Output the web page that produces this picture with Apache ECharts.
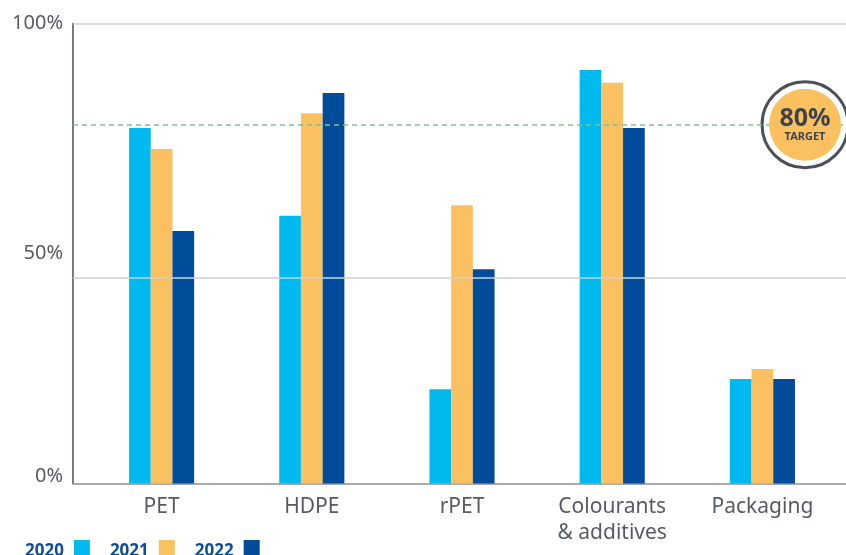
<!DOCTYPE html>
<html lang="en">
<head>
    <meta charset="UTF-8">
    <title>Recycled content</title>
    <script src="https://cdn.jsdelivr.net/npm/echarts@6/dist/echarts.min.js"></script>
    <style>
        html, body { margin: 0; padding: 0; background: #fff; }
        #main { width: 846px; height: 555px; }
    </style>
</head>
<body>
<div id="main"></div>
<script type="text/javascript">
    var categories = ['PET', 'HDPE', 'rPET', 'Colourants\n& additives', 'Packaging'];
    var years = ['2020', '2021', '2022'];
    var v2020 = [77.3, 58.2, 20.5, 89.9, 22.7];
    var v2021 = [72.7, 80.5, 60.5, 87.1, 24.9];
    var v2022 = [54.9, 84.9, 46.6, 77.3, 22.7];
    var yTicks = [0, 50, 100];
    var midLine = 44.8;      // grey rule, drawn a bit under the 50% label in the original
    var targetLine = 78;     // dashed "target" rule
    var targetText = ['80%', 'TARGET'];

    var colors = ['#00B9EE', '#FBC060', '#004B9A'];
    var fontFam = '"Noto Sans", "Open Sans", sans-serif';

    var myChart = echarts.init(document.getElementById('main'));

    var barSeries = [v2020, v2021, v2022].map(function (vals, i) {
        return {
            name: years[i],
            type: 'bar',
            xAxisIndex: 1,
            yAxisIndex: 1,
            barWidth: 21.7,
            barGap: '0%',
            z: 3,
            itemStyle: {color: colors[i]},
            data: vals
        };
    });

    var option = {
        animation: false,
        textStyle: {fontFamily: fontFam},
        legend: {
            data: years,
            left: 20,
            top: 535,
            align: 'right',
            icon: 'rect',
            itemWidth: 16,
            itemHeight: 22,
            itemGap: 20,
            textStyle: {
                color: '#0E4E96',
                fontWeight: 'bold',
                fontSize: 17,
                fontFamily: fontFam,
                padding: [0, 5, 0, 0]
            }
        },
        grid: [
            // frame grid: axis lines, y labels, rules
            {left: 73, right: 0, top: 23.5, bottom: 71.5},
            // bar grid
            {left: 86.5, right: 8.5, top: 23.5, bottom: 71.5}
        ],
        xAxis: [
            {
                type: 'value', gridIndex: 0, min: 0, max: 100,
                axisLine: {show: true, lineStyle: {color: '#8C8F94', width: 1.5}},
                axisTick: {show: false},
                axisLabel: {show: false},
                splitLine: {show: false}
            },
            {
                type: 'category', gridIndex: 1, data: categories,
                axisLine: {show: false},
                axisTick: {show: false},
                axisLabel: {
                    color: '#555B63',
                    fontSize: 21,
                    lineHeight: 26,
                    margin: 11,
                    fontFamily: fontFam
                },
                splitLine: {show: false}
            }
        ],
        yAxis: [
            {
                type: 'value', gridIndex: 0, min: yTicks[0], max: yTicks[yTicks.length - 1], interval: 50,
                axisLine: {show: true, lineStyle: {color: '#4B4F57', width: 1.5}},
                axisTick: {show: false},
                axisLabel: {
                    color: '#555B63',
                    fontSize: 20,
                    margin: 10,
                    fontFamily: fontFam,
                    formatter: function (v) {
                        return v === 0 ? '{z|0%}' : v + '%';
                    },
                    rich: {
                        z: {color: '#555B63', fontSize: 20, fontFamily: fontFam, padding: [0, 0, 14, 0]}
                    }
                },
                splitLine: {show: false}
            },
            {
                type: 'value', gridIndex: 1, min: 0, max: 100, show: false
            }
        ],
        series: barSeries.concat([
            {
                // rules behind the bars
                type: 'line',
                xAxisIndex: 0,
                yAxisIndex: 0,
                data: [],
                z: 1,
                silent: true,
                markLine: {
                    symbol: 'none',
                    silent: true,
                    label: {show: false},
                    data: [
                        {yAxis: 100, lineStyle: {color: '#CFCFCF', width: 1.5, type: 'solid'}},
                        {yAxis: midLine, lineStyle: {color: '#CFCFCF', width: 1.5, type: 'solid'}},
                        {yAxis: targetLine, lineStyle: {color: '#7CC290', width: 1.5, type: [5, 4]}}
                    ]
                }
            },
            {
                // target badge ring
                type: 'scatter',
                xAxisIndex: 0,
                yAxisIndex: 0,
                symbol: 'circle',
                symbolSize: 86,
                z: 4,
                silent: true,
                itemStyle: {color: '#FFFFFF', borderColor: '#4B4F57', borderWidth: 3, opacity: 1},
                data: [[94.7, targetLine]]
            },
            {
                type: 'scatter',
                xAxisIndex: 0,
                yAxisIndex: 0,
                symbol: 'circle',
                symbolSize: 72,
                z: 5,
                silent: true,
                itemStyle: {color: '#FBC060', opacity: 1},
                label: {
                    show: true,
                    position: 'inside',
                    formatter: '{a|' + targetText[0] + '}\n{b|' + targetText[1] + '}',
                    rich: {
                        a: {color: '#3F444C', fontSize: 25, fontWeight: 'bold', fontFamily: fontFam, lineHeight: 24},
                        b: {color: '#3F444C', fontSize: 11, fontWeight: 'bold', fontFamily: fontFam, lineHeight: 12}
                    }
                },
                data: [[94.7, targetLine]]
            }
        ])
    };
    myChart.setOption(option);
</script>
</body>
</html>
